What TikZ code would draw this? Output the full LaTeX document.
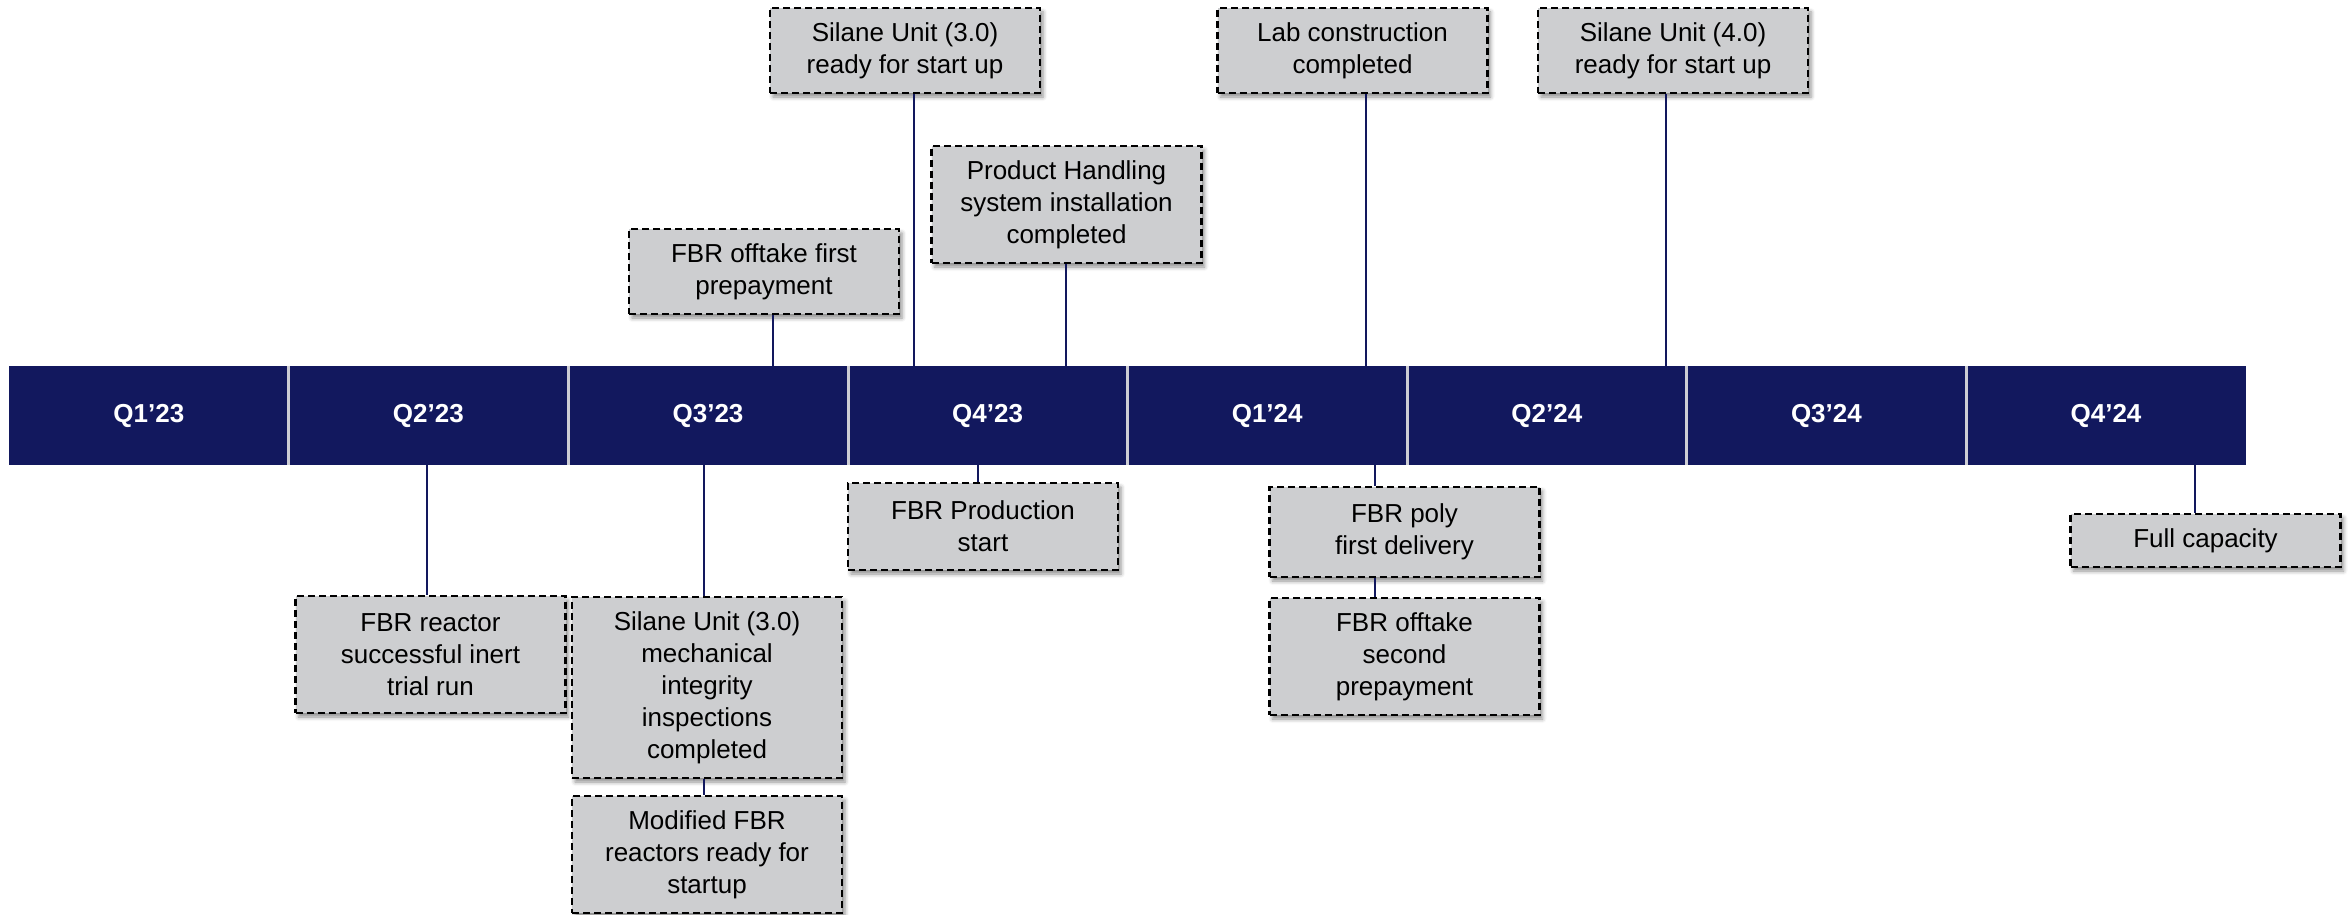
\documentclass[tikz,border=0pt]{standalone}
\usepackage{fontspec}
\setmainfont{Liberation Sans}
\usetikzlibrary{shadows.blur}
\definecolor{navy}{RGB}{18,24,94}
\definecolor{boxgray}{RGB}{205,206,208}
\definecolor{divgray}{RGB}{205,205,212}
\tikzset{
  mbox/.style={draw=black, fill=boxgray, line width=2.2pt, dash pattern=on 7pt off 4pt,
    align=center, inner sep=0pt, minimum width=270pt,
    font=\fontsize{26}{32}\selectfont,
    blur shadow={shadow xshift=3pt, shadow yshift=-4pt, shadow blur radius=4pt, shadow opacity=45}},
  qseg/.style={fill=navy, text=white, inner sep=0pt, minimum width=279.6pt, minimum height=99pt,
    font=\fontsize{26}{32}\selectfont\bfseries},
  divline/.style={draw=divgray, line width=3pt},
  conn/.style={draw=navy, line width=2.4pt}
}
\begin{document}
\begin{tikzpicture}[x=1pt,y=-1pt]
\useasboundingbox (0,0) rectangle (2351,915);
% timeline bar
\node[qseg] (q1) at (148.8,415.5) {Q1’23};
\node[qseg] (q2) at (428.4,415.5) {Q2’23};
\node[qseg] (q3) at (708,415.5) {Q3’23};
\node[qseg] (q4) at (987.6,415.5) {Q4’23};
\node[qseg] (q5) at (1267.2,415.5) {Q1’24};
\node[qseg] (q6) at (1546.8,415.5) {Q2’24};
\node[qseg] (q7) at (1826.4,415.5) {Q3’24};
\node[qseg] (q8) at (2106,415.5) {Q4’24};
\foreach \i in {1,...,7} {\draw[divline] (q\i.north east) -- (q\i.south east);}
% connector anchor points on the bar
\coordinate (tA) at (914,366);
\coordinate (tB) at (1366,366);
\coordinate (tC) at (1666,366);
\coordinate (tD) at (1066,366);
\coordinate (tE) at (773,366);
\coordinate (bF) at (427,465);
\coordinate (bG) at (704,465);
\coordinate (bI) at (978,465);
\coordinate (bJ) at (1375,465);
\coordinate (bL) at (2195,465);
% milestone boxes
\node[mbox, minimum height=85pt] (A) at (905,50.5) {Silane Unit (3.0)\\ready for start up};
\node[mbox, minimum height=85pt] (B) at (1352.5,50.5) {Lab construction\\completed};
\node[mbox, minimum height=85pt] (C) at (1673,50.5) {Silane Unit (4.0)\\ready for start up};
\node[mbox, minimum height=117pt] (D) at (1066.5,204.5) {Product Handling\\system installation\\completed};
\node[mbox, minimum height=85pt] (E) at (764,271.5) {FBR offtake first\\prepayment};
\node[mbox, minimum height=117pt] (F) at (430.5,654.5) {FBR reactor\\successful inert\\trial run};
\node[mbox, minimum height=181pt] (G) at (707,687.5) {Silane Unit (3.0)\\mechanical\\integrity\\inspections\\completed};
\node[mbox, minimum height=117pt] (H) at (707,854.5) {Modified FBR\\reactors ready for\\startup};
\node[mbox, minimum height=87pt] (I) at (983,526.5) {FBR Production\\start};
\node[mbox, minimum height=90pt] (J) at (1404.5,532) {FBR poly\\first delivery};
\node[mbox, minimum height=117pt] (K) at (1404.5,656.5) {FBR offtake\\second\\prepayment};
\node[mbox, minimum height=53pt] (L) at (2205.5,540.5) {Full capacity};
% connectors
\draw[conn] (A.south -| tA) -- (tA);
\draw[conn] (B.south -| tB) -- (tB);
\draw[conn] (C.south -| tC) -- (tC);
\draw[conn] (D.south -| tD) -- (tD);
\draw[conn] (E.south -| tE) -- (tE);
\draw[conn] (bF) -- (F.north -| bF);
\draw[conn] (bG) -- (G.north -| bG);
\draw[conn] (G.south -| bG) -- (H.north -| bG);
\draw[conn] (bI) -- (I.north -| bI);
\draw[conn] (bJ) -- (J.north -| bJ);
\draw[conn] (J.south -| bJ) -- (K.north -| bJ);
\draw[conn] (bL) -- (L.north -| bL);
\end{tikzpicture}
\end{document}
